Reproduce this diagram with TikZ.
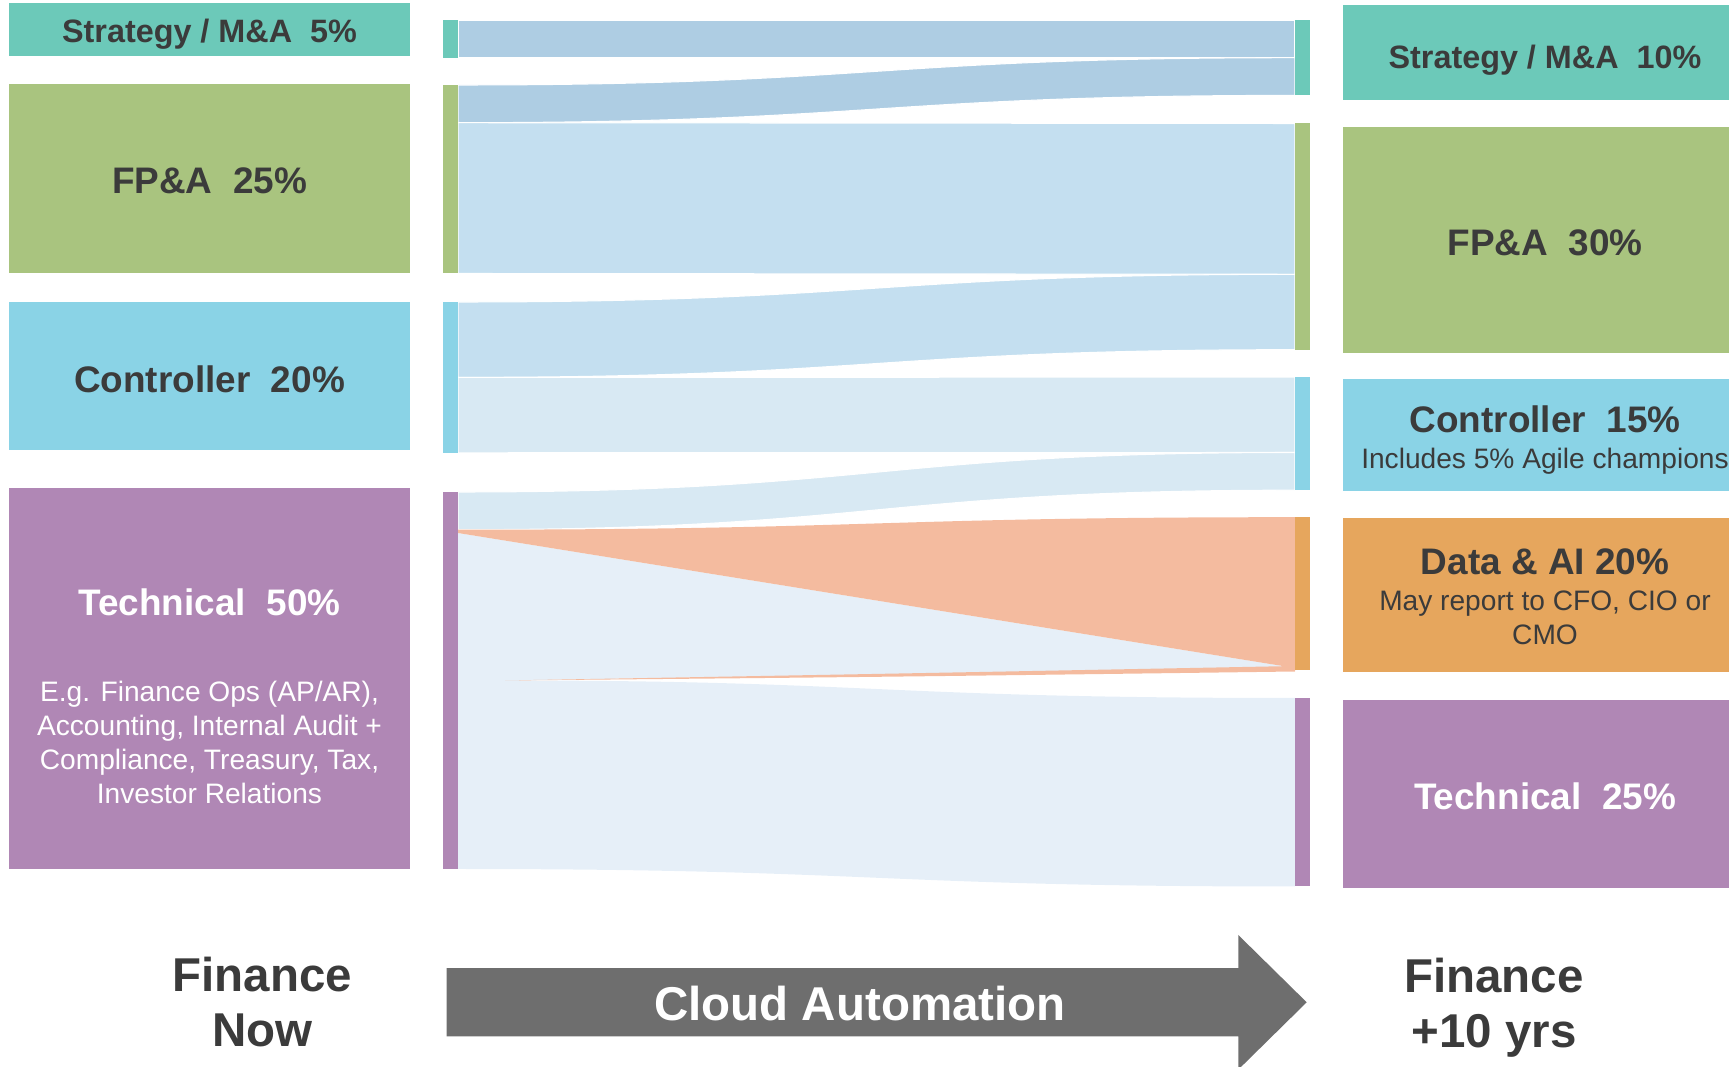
\documentclass[tikz,border=0pt]{standalone}
\usepackage{fontspec}
\setmainfont{Liberation Sans}
\usepackage{tikz}
\usetikzlibrary{positioning}
\definecolor{stratteal}{HTML}{6CC9B9}
\definecolor{fpagreen}{HTML}{A9C47F}
\definecolor{ctrlblue}{HTML}{8AD3E6}
\definecolor{techpurple}{HTML}{B087B5}
\definecolor{dataorange}{HTML}{E6A65D}
\definecolor{flowstrat}{HTML}{AECDE3}
\definecolor{flowfpa}{HTML}{C4DFF0}
\definecolor{flowctrl}{HTML}{D8E9F3}
\definecolor{flowtech}{HTML}{E6EFF8}
\definecolor{flowdata}{HTML}{F4BB9F}
\definecolor{arrowgray}{HTML}{6E6E6E}
\definecolor{darktext}{HTML}{3B3B3B}

\begin{document}
\begin{tikzpicture}[x=0.01cm, y=-0.01cm,
    every node/.style={inner sep=0pt, text=darktext},
    lbox/.style={rectangle, minimum width=4.01cm},
    rbox/.style={rectangle, minimum width=4.04cm},
    stratfont/.style={anchor=base, font=\fontsize{9.2}{11}\selectfont\bfseries},
    titlefont/.style={anchor=base, font=\fontsize{10.5}{12.6}\selectfont\bfseries},
    subfont/.style={align=center, font=\fontsize{8}{9.6}\selectfont},
    bigfont/.style={align=center, font=\fontsize{13.5}{15.65}\selectfont\bfseries}]
    \useasboundingbox (0,0) rectangle (1729,1067);

    % Fluesse
    \foreach \la/\lb/\ra/\rb/\c in {20/57.7/20/57.7/flowstrat, 85/122.7/57.7/95.4/flowstrat,
        122.7/273.5/123.5/274.3/flowfpa, 302/377.4/274.3/349.7/flowfpa,
        377.4/452.8/377.1/452.5/flowctrl, 492/529.7/452.5/490.2/flowctrl} {
        \fill[\c, draw=white, line width=0.3pt] (458,\la) .. controls (876,\la) and (876,\ra) .. (1295,\ra)
            -- (1295,\rb) .. controls (876,\rb) and (876,\lb) .. (458,\lb) -- cycle;
    }
    \fill[flowtech] (458,533) -- (1295,668) -- (505,680.5) .. controls (876,680.5) and (876,698) .. (1295,698)
        -- (1295,886.5) .. controls (876,886.5) and (876,869) .. (458,869) -- cycle;
    \fill[flowdata] (458,529.7) .. controls (876,529.7) and (876,517.2) .. (1295,517.2) -- (1295,668) -- (458,533) -- cycle;
    \fill[flowdata] (505,680.5) .. controls (876,674) .. (1295,666) -- (1295,671.5) .. controls (876,677) .. (505,680.5);

    % Balken
    \foreach \ya/\yb/\c in {20/57.7/stratteal, 85/273.5/fpagreen, 302/452.8/ctrlblue, 492/869/techpurple} {
        \fill[\c] (443,\ya) rectangle (458,\yb);
    }
    \foreach \ya/\yb/\c in {20/95.4/stratteal, 123.5/349.7/fpagreen, 377.1/490.2/ctrlblue,
        517.2/670/dataorange, 698/886.5/techpurple} {
        \fill[\c] (1295,\ya) rectangle (1310,\yb);
    }

    % Finance Now
    \node[lbox, fill=stratteal, minimum height=0.53cm] (lstrat) at (209.5,29.5) {};
    \node[lbox, fill=fpagreen, minimum height=1.89cm] (lfpa) at (209.5,178.5) {};
    \node[lbox, fill=ctrlblue, minimum height=1.48cm] (lctrl) at (209.5,376) {};
    \node[lbox, fill=techpurple, minimum height=3.805cm] (ltech) at (209.5,678.75) {};
    \node[stratfont] (lstratlabel) at (209.5,42.5) {Strategy / M\&A~~5\%};
    \node[titlefont] (lfpalabel) at (209.5,193.3) {FP\&A~~25\%};
    \node[titlefont] (lctrllabel) at (209.5,392.5) {Controller~~20\%};
    \node[titlefont, text=white] (ltechlabel) at (209.5,615.7) {Technical~~50\%};
    \node[subfont, text=white] (ltechnote) at (209.5,742.5)
        {E.g. Finance Ops (AP/AR),\\Accounting, Internal Audit +\\Compliance, Treasury, Tax,\\Investor Relations};

    % Finance +10 yrs
    \node[rbox, fill=stratteal, minimum height=0.945cm] (rstrat) at (1545,52.25) {};
    \node[rbox, fill=fpagreen, minimum height=2.26cm] (rfpa) at (1545,240) {};
    \node[rbox, fill=ctrlblue, minimum height=1.12cm] (rctrl) at (1545,435) {};
    \node[rbox, fill=dataorange, minimum height=1.54cm] (rdata) at (1545,595) {};
    \node[rbox, fill=techpurple, minimum height=1.88cm] (rtech) at (1545,794) {};
    \node[stratfont] (rstratlabel) at (1545,68.3) {Strategy / M\&A~~10\%};
    \node[titlefont] (rfpalabel) at (1545,255.7) {FP\&A~~30\%};
    \node[titlefont] (rctrllabel) at (1545,432.3) {Controller~~15\%};
    \node[subfont, anchor=base] (rctrlnote) at (1545,469) {Includes 5\% Agile champions};
    \node[titlefont] (rdatalabel) at (1545,575) {Data \& AI 20\%};
    \node[subfont] (rdatanote) at (1545,618) {May report to CFO, CIO or\\CMO};
    \node[titlefont, text=white] (rtechlabel) at (1545,809.3) {Technical~~25\%};

    % Pfeil
    \fill[arrowgray] (446.6,968.2) -- (1238.3,968.2) -- (1238.3,935) -- (1306.7,1002.3)
        -- (1238.3,1069.6) -- (1238.3,1036.5) -- (446.6,1036.5) -- cycle;
    \node[bigfont, anchor=base, text=white] (cloud) at (860,1020.7) {Cloud Automation};
    \node[bigfont] (now) at (262.4,1002.5) {Finance\\Now};
    \node[bigfont] (later) at (1494,1007.5) {Finance\\+10 yrs};
\end{tikzpicture}
\end{document}
